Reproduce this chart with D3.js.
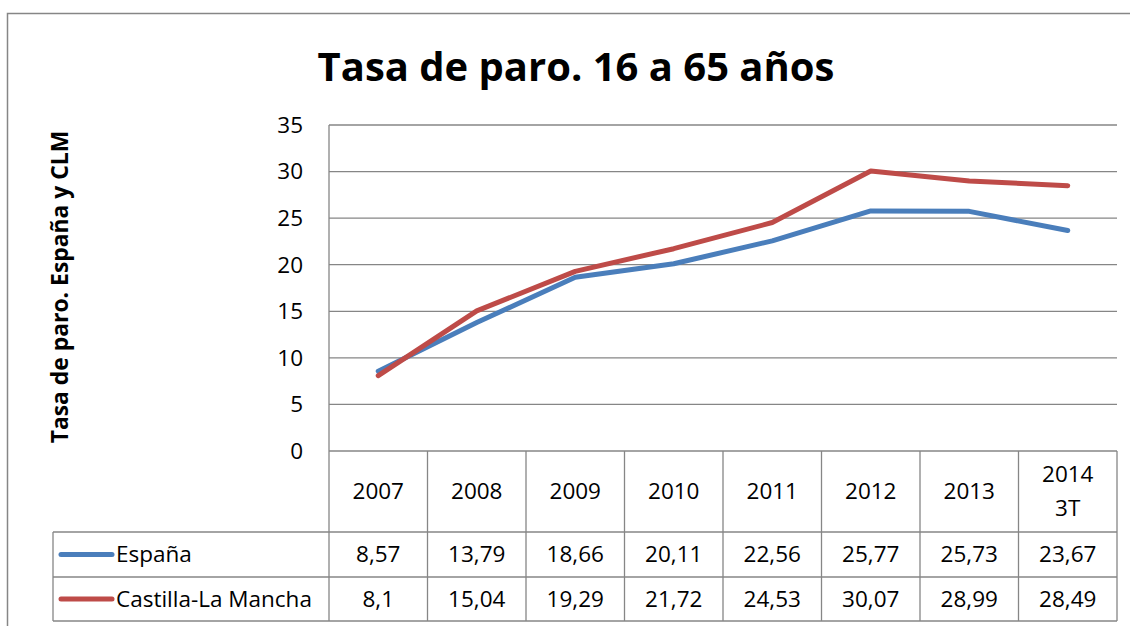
<!DOCTYPE html>
<html>
<head>
<meta charset="utf-8">
<script src="https://cdn.jsdelivr.net/npm/d3@7"></script>
<style>
  html, body { margin: 0; padding: 0; background: #fff; }
  svg { display: block; }
  text { font-family: "Open Sans", Lato, sans-serif; fill: #000; }
</style>
</head>
<body>
<svg id="chart" width="1130" height="626"></svg>
<script>
const categories = ["2007", "2008", "2009", "2010", "2011", "2012", "2013", "2014\n3T"];
const espana = [8.57, 13.79, 18.66, 20.11, 22.56, 25.77, 25.73, 23.67];
const clm = [8.1, 15.04, 19.29, 21.72, 24.53, 30.07, 28.99, 28.49];
const yTicks = [0, 5, 10, 15, 20, 25, 30, 35];

const series = [
  { name: "España", values: espana, color: "#4A7EBB" },
  { name: "Castilla-La Mancha", values: clm, color: "#BE4B48" },
];

const GRID = "#868686";
const FS = 22.5;
const svg = d3.select("#chart");

// outer chart frame (runs off the right and bottom edge)
svg.append("rect")
  .attr("x", 7.5).attr("y", 13.5).attr("width", 1140).attr("height", 640)
  .attr("fill", "none").attr("stroke", GRID).attr("stroke-width", 1.5);

const plot = { left: 329, right: 1117, top: 125, bottom: 451 };
const rows = { header: 532, r1: 577, r2: 621, legendLeft: 53 };

const x = d3.scaleBand().domain(categories).range([plot.left, plot.right]);
const y = d3.scaleLinear().domain([0, 35]).range([plot.bottom, plot.top]);

// shrink/grow a text node so it spans the given width
function fitWidth(sel, target) {
  const fs = +sel.attr("font-size");
  const len = sel.node().getComputedTextLength();
  if (len > 0) sel.attr("font-size", fs * target / len);
}

// title
const title = svg.append("text")
  .attr("x", 576).attr("y", 81)
  .attr("text-anchor", "middle")
  .attr("font-size", 40).attr("font-weight", "bold")
  .text("Tasa de paro. 16 a 65 años");
fitWidth(title, 517);

// y axis title
const yTitle = svg.append("text")
  .attr("transform", "translate(68,287) rotate(-90)")
  .attr("text-anchor", "middle")
  .attr("font-size", 20).attr("font-weight", "bold")
  .text("Tasa de paro. España y CLM");
fitWidth(yTitle, 313);

// gridlines
svg.append("g").selectAll("line")
  .data(yTicks)
  .join("line")
  .attr("x1", plot.left).attr("x2", plot.right)
  .attr("y1", d => y(d)).attr("y2", d => y(d))
  .attr("stroke", GRID).attr("stroke-width", 1.3);

// y tick labels
svg.append("g").selectAll("text")
  .data(yTicks)
  .join("text")
  .attr("x", 303).attr("y", d => y(d))
  .attr("dy", "0.35em")
  .attr("text-anchor", "end")
  .attr("font-size", FS)
  .text(d => d);

// table grid
const tg = svg.append("g").attr("stroke", GRID).attr("stroke-width", 1.3).attr("fill", "none");
tg.append("line").attr("x1", plot.left).attr("x2", plot.left).attr("y1", plot.top).attr("y2", rows.r2);
tg.selectAll("line.col")
  .data(categories)
  .join("line").attr("class", "col")
  .attr("x1", d => x(d) + x.bandwidth()).attr("x2", d => x(d) + x.bandwidth())
  .attr("y1", plot.bottom).attr("y2", rows.r2);
[rows.header, rows.r1, rows.r2].forEach(yy => {
  tg.append("line").attr("x1", rows.legendLeft).attr("x2", plot.right).attr("y1", yy).attr("y2", yy);
});
tg.append("line").attr("x1", rows.legendLeft).attr("x2", rows.legendLeft).attr("y1", rows.header).attr("y2", rows.r2);

// category labels
const catG = svg.append("g");
categories.forEach(c => {
  const parts = c.split("\n");
  const cy = (plot.bottom + rows.header) / 2;
  const lh = 34;
  const t = catG.append("text")
    .attr("text-anchor", "middle")
    .attr("font-size", FS);
  parts.forEach((p, i) => {
    t.append("tspan")
      .attr("x", x(c) + x.bandwidth() / 2)
      .attr("y", cy + (i - (parts.length - 1) / 2) * lh)
      .attr("dy", "0.35em")
      .text(p);
  });
});

// table values + legend keys
const fmtVal = v => String(v).replace(".", ",");
const rowCenters = [(rows.header + rows.r1) / 2, (rows.r1 + rows.r2) / 2];
series.forEach((s, i) => {
  const cy = rowCenters[i];
  svg.append("line")
    .attr("x1", 61).attr("x2", 112).attr("y1", cy).attr("y2", cy)
    .attr("stroke", s.color).attr("stroke-width", 5).attr("stroke-linecap", "round");
  svg.append("text")
    .attr("x", 116).attr("y", cy).attr("dy", "0.35em")
    .attr("font-size", FS)
    .text(s.name);
  svg.append("g").selectAll("text")
    .data(s.values)
    .join("text")
    .attr("x", (d, j) => x(categories[j]) + x.bandwidth() / 2)
    .attr("y", cy).attr("dy", "0.35em")
    .attr("text-anchor", "middle")
    .attr("font-size", FS)
    .text(fmtVal);
});

// lines
const line = d3.line()
  .x((d, j) => x(categories[j]) + x.bandwidth() / 2)
  .y(d => y(d));

series.forEach(s => {
  svg.append("path")
    .datum(s.values)
    .attr("d", line)
    .attr("fill", "none")
    .attr("stroke", s.color)
    .attr("stroke-width", 5)
    .attr("stroke-linecap", "round")
    .attr("stroke-linejoin", "round");
});
</script>
</body>
</html>
